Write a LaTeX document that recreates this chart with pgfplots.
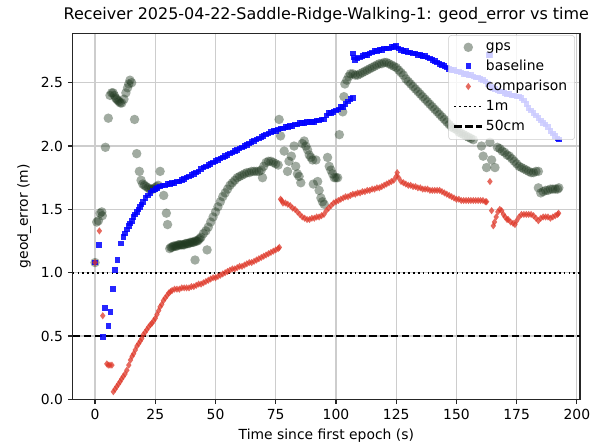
\documentclass[border=0pt]{standalone}
\usepackage{pgfplots}
\pgfplotsset{compat=1.18}
\usepackage{fontspec}
\setmainfont{DejaVu Sans}
\definecolor{gpsc}{RGB}{30,55,30}
\definecolor{basec}{RGB}{0,0,255}
\definecolor{compc}{RGB}{222,55,40}
\definecolor{gridc}{RGB}{205,205,205}
\begin{document}
\begin{tikzpicture}
\path[use as bounding box] (-52.3pt,-30.7pt) rectangle (391.2pt,287.5pt);
\begin{axis}[
  scale only axis, width=365.3pt, height=263.5pt,
  xmin=-9.3, xmax=201.3, ymin=0, ymax=2.89,
  xtick={0,25,50,75,100,125,150,175,200},
  ytick={0,0.5,1,1.5,2,2.5},
  yticklabel style={/pgf/number format/.cd, fixed, fixed zerofill, precision=1},
  /pgf/number format/assume math mode=true,
  ticklabel style={font=\fontsize{10}{12}\selectfont},
  grid=major, major grid style={gridc, line width=0.8pt},
  axis line style={black!85, line width=0.8pt},
  tick align=outside, tick pos=left, major tick length=3.5pt,
  tick style={black!85, line width=0.8pt},
  title={Receiver 2025-04-22-Saddle-Ridge-Walking-1: geod\_error vs time},
  title style={font=\fontsize{11.5}{14}\selectfont, yshift=-2pt},
  xlabel={Time since first epoch (s)},
  ylabel={geod\_error (m)},
  label style={font=\fontsize{10}{12}\selectfont},
  legend cell align=left,
  legend image code/.code={\draw[mark repeat=2,mark phase=2,#1] plot coordinates {(0cm,0cm) (0.35cm,0cm) (0.7cm,0cm)};},
  legend style={at={(rel axis cs:0.99,0.995)}, anchor=north east, draw=black!20, rounded corners=2pt,
    fill=white, fill opacity=0.8, text opacity=1, draw opacity=1, font=\fontsize{10}{12}\selectfont,
    row sep=1.5pt, inner xsep=3.5pt, inner ysep=3pt},
]
% gps
\addplot[only marks, mark=*, mark size=3.4pt, color=gpsc, mark options={draw opacity=0, fill opacity=0.42}] coordinates {
(0,1.08)(0.7,1.40)(1.4,1.41)(2.1,1.47)(2.8,1.48)(3.0,1.45)
(4.3,1.99)(5.5,2.22)(6.2,2.40)(6.9,2.42)(7.5,2.42)(8.0,2.40)(8.5,2.38)(9.0,2.37)(9.5,2.36)(10.0,2.35)(10.5,2.34)(11.1,2.34)(12.0,2.37)(12.8,2.42)(13.5,2.46)(14.0,2.49)(14.5,2.52)(15.2,2.50)
(16.4,2.21)(17.3,1.94)(18.4,1.80)(19.1,1.73)(19.8,1.70)(20.5,1.69)(21.2,1.68)(22,1.67)(22.7,1.66)(23.4,1.66)(24.1,1.66)(24.8,1.67)(25.5,1.68)(26.2,1.69)(27,1.80)(28.5,1.61)(29.6,1.47)(30.1,1.38)
(31,1.19)(31.5,1.20)(32,1.20)(32.5,1.21)(33,1.21)(33.5,1.21)(34,1.21)(34.5,1.22)(35,1.22)(35.5,1.22)(36,1.22)(36.5,1.22)(37,1.22)(37.5,1.23)(38,1.23)(38.5,1.23)(39,1.23)(39.5,1.24)(40,1.24)(40.5,1.24)(41,1.24)(41.5,1.25)(42,1.25)(42.5,1.25)(43,1.26)(43.5,1.27)(44,1.28)(45,1.31)(46,1.33)(47,1.36)(48,1.40)(49,1.44)(50,1.48)(51,1.52)(52,1.56)(53,1.60)(54,1.63)(55,1.66)(56,1.69)(57,1.71)(58,1.73)(59,1.75)(60,1.76)(61,1.77)(62,1.78)(63,1.79)(64,1.79)(65,1.80)(66,1.80)(67,1.80)(68,1.80)(69,1.81)(70,1.84)(71,1.87)(72,1.88)(73,1.88)(74,1.87)(75,1.86)(76,1.85)
(41.5,1.10)(46.5,1.18)(69.5,1.75)
(76.4,2.21)(77,2.08)(78.5,1.96)(79.9,1.80)(80.5,1.88)(81.5,1.92)(82.6,2.00)(83.3,1.84)(84,1.78)(84.7,1.76)(85.4,1.71)(86,2.02)(86.8,2.04)(87.5,2.00)(88.2,1.97)(88.9,1.93)(89.6,1.91)(90.3,1.89)(90.6,1.70)(91.7,1.89)(92.4,1.72)(93,1.65)(93.75,1.59)(94.4,1.56)(95.1,1.54)(96.5,1.91)(97.2,1.84)(97.9,1.81)(98.6,1.78)(99.3,1.75)(100,1.75)(100.7,1.75)(101.4,2.09)(102.8,2.27)(103.3,2.39)
(103.7,2.49)(104.5,2.52)(105.3,2.55)(106,2.57)(107,2.57)(108,2.56)(109,2.56)(110,2.57)(111,2.58)(112,2.59)(113,2.60)(114,2.61)(115,2.62)(116,2.63)(117,2.64)(118,2.65)(119,2.65)(120,2.66)(121,2.66)(122,2.65)(123,2.64)(124,2.63)(125,2.62)(126,2.60)(127,2.58)(128,2.56)(129,2.53)(130,2.51)(131,2.49)(132,2.47)(133,2.45)(134,2.43)(135,2.41)(136,2.39)(137,2.37)(138,2.35)(139,2.33)(140,2.31)(141,2.29)(142,2.27)(143,2.25)(144,2.23)(145,2.21)(146,2.19)(147,2.17)(148,2.15)(149,2.14)(150,2.13)(151,2.11)(152,2.10)(153,2.09)(154,2.08)(155,2.07)(156,2.06)(157,2.05)
(160.4,2.00)(161.1,1.92)(162.5,1.83)(163.9,2.03)(164.6,1.89)(166,1.83)
(167,1.99)(168,1.98)(169,1.96)(170,1.95)(171,1.93)(172,1.92)(173,1.90)(174,1.88)(175,1.86)(176,1.84)(177,1.83)(178,1.82)(179,1.81)(180,1.80)(181,1.79)(182,1.79)(183,1.80)(184,1.80)
(184,1.67)(185,1.63)(186,1.64)(187,1.65)(188,1.65)(189,1.66)(190,1.66)(191,1.66)(192,1.66)(192.5,1.67)
};
% baseline
\addplot[only marks, mark=square*, mark size=2pt, color=basec, mark options={draw opacity=0, fill opacity=0.85}] coordinates {
(0,1.08)(1.7,1.22)(3.2,0.49)(4.2,0.72)(5.6,0.58)(6.5,0.69)(7.4,0.87)(8.3,1.02)(9.4,1.10)(10.7,1.23)(11.8,1.28)(12.5,1.31)(13.2,1.34)(14,1.37)(14.6,1.39)(15.3,1.41)(16,1.44)(16.6,1.46)(17.3,1.48)(18,1.50)(18.6,1.52)(19.3,1.54)(20,1.56)(21,1.59)(22,1.61)(23,1.63)(24,1.65)(25,1.66)(26,1.67)(27,1.68)(28,1.69)(29,1.69)(30,1.70)(31,1.70)(32,1.71)(33,1.71)(34,1.72)(35,1.72)(36,1.73)(37,1.74)(38,1.75)(39,1.76)(40,1.77)(41,1.78)(42,1.79)(43,1.80)(44,1.82)(45,1.83)(46,1.84)(47,1.85)(48,1.86)(49,1.87)(50,1.88)(51,1.89)(52,1.90)(53,1.91)(54,1.92)(55,1.93)(56,1.94)(57,1.95)(58,1.96)(59,1.97)(60,1.98)(61,1.99)(62,2.00)(63,2.01)(64,2.02)(65,2.03)(66,2.04)(67,2.05)(68,2.06)(69,2.07)(70,2.08)(71,2.09)(72,2.10)(73,2.11)(74,2.12)(75,2.12)(76,2.13)(77,2.14)(78,2.14)(79,2.15)(80,2.15)(81,2.16)(82,2.16)(83,2.17)(84,2.17)(85,2.18)(86,2.18)(87,2.18)(88,2.19)(89,2.19)(90,2.19)(91,2.19)(92,2.20)(93,2.20)(94,2.21)(95,2.21)(96,2.24)(97,2.26)(98,2.26)(99,2.27)(100,2.28)(101,2.29)(102,2.31)(103,2.31)(104,2.33)(105,2.35)(106,2.37)(107,2.38)
(107,2.73)(107.5,2.70)(108,2.68)(109,2.69)(110,2.70)(111,2.71)(112,2.72)(113,2.72)(114,2.73)(115,2.74)(116,2.75)(117,2.75)(118,2.76)(119,2.76)(120,2.77)(121,2.77)(122,2.77)(123,2.78)(124,2.78)(125,2.79)(126,2.77)(127,2.76)(128,2.75)(129,2.75)(130,2.74)(131,2.74)(132,2.73)(133,2.73)(134,2.72)(135,2.72)(136,2.71)(137,2.71)(138,2.70)(139,2.69)(140,2.68)(141,2.67)(142,2.66)(143,2.65)(144,2.64)(145,2.63)(146,2.62)(147,2.61)(148,2.60)(149,2.60)(150,2.59)(151,2.59)(152,2.58)(153,2.57)(154,2.57)(155,2.56)(156,2.56)(157,2.55)(158,2.54)(159,2.54)(160,2.53)(161,2.52)(162,2.51)(163,2.49)(163.5,2.72)(164,2.72)(164.5,2.47)(165,2.46)(166,2.45)(167,2.44)(168,2.43)(169,2.43)(170,2.42)(171,2.41)(172,2.41)(173,2.40)(174,2.40)(175,2.39)(176,2.39)(177,2.38)(178,2.36)(179,2.33)(180,2.30)(181,2.28)(182,2.26)(183,2.24)(184,2.22)(185,2.20)(186,2.18)(187,2.17)(188,2.15)(189,2.12)(190,2.10)(191,2.08)(192,2.06)(192.5,2.05)
};
% comparison
\addplot[only marks, mark=diamond*, mark size=2.6pt, color=compc, mark options={draw opacity=0, fill opacity=0.75}] coordinates {
(0,1.08)(1.8,1.33)(3.2,0.66)(4.9,0.28)(5.5,0.27)(6.2,0.27)(7,0.27)(7.6,0.06)(8.3,0.08)(9,0.10)(9.7,0.12)(10.4,0.14)(11,0.16)(11.7,0.18)(12.4,0.20)(13.2,0.23)(14,0.27)(14.7,0.31)(15.4,0.34)(16,0.36)(16.7,0.39)(17.4,0.42)(18.1,0.44)(18.75,0.46)(19.4,0.48)(20,0.51)(20.8,0.53)(21.5,0.55)(22.2,0.57)(23,0.59)(23.6,0.60)(24.3,0.62)(25,0.64)(25.7,0.67)(26.4,0.70)(27,0.73)(27.7,0.75)(28.4,0.78)(29.1,0.80)(29.9,0.82)(30.6,0.84)(31.3,0.85)(32,0.86)(33,0.87)(34,0.87)(35,0.87)(36,0.88)(37,0.88)(38,0.88)(39,0.88)(40,0.89)(41,0.89)(42,0.90)(43,0.91)(44,0.91)(45,0.92)(46,0.93)(47,0.94)(48,0.95)(49,0.96)(50,0.96)(51,0.97)(52,0.98)(53,0.99)(54,1.00)(55,1.01)(56,1.02)(57,1.03)(58,1.03)(59,1.04)(60,1.05)(61,1.05)(62,1.06)(63,1.07)(64,1.08)(65,1.08)(66,1.09)(67,1.10)(68,1.11)(69,1.12)(70,1.13)(71,1.14)(72,1.15)(73,1.16)(74,1.17)(75,1.18)(76,1.19)(76.5,1.20)
(77,1.58)(77.5,1.57)(78,1.55)(79,1.55)(80,1.54)(81,1.53)(82,1.51)(83,1.50)(84,1.48)(85,1.46)(86,1.44)(87,1.43)(88,1.42)(89,1.42)(90,1.43)(91,1.43)(92,1.44)(93,1.44)(94,1.45)(95,1.46)(96,1.49)(97,1.51)(98,1.53)(99,1.55)(100,1.56)(101,1.57)(102,1.58)(103,1.59)(104,1.60)(105,1.60)(106,1.61)(107,1.62)(108,1.62)(109,1.63)(110,1.63)(111,1.64)(112,1.64)(113,1.65)(114,1.65)(115,1.66)(116,1.66)(117,1.67)(118,1.67)(119,1.68)(120,1.69)(121,1.70)(122,1.71)(123,1.72)(124,1.73)(125,1.76)(125.4,1.79)(126,1.75)(127,1.72)(128,1.71)(129,1.70)(130,1.69)(131,1.69)(132,1.68)(133,1.68)(134,1.67)(135,1.67)(136,1.66)(137,1.66)(138,1.66)(139,1.65)(140,1.65)(141,1.65)(142,1.65)(143,1.65)(144,1.64)(145,1.63)(146,1.62)(147,1.61)(148,1.60)(149,1.59)(150,1.58)(151,1.58)(152,1.57)(153,1.57)(154,1.57)(155,1.57)(156,1.57)(157,1.57)(158,1.57)(159,1.57)(160,1.57)(161,1.57)(162,1.56)(162.5,1.56)
(163.9,1.72)
(164.6,1.49)(165.3,1.37)(165.8,1.40)(166.5,1.44)(167.2,1.48)(168,1.50)(168.75,1.49)(169.5,1.46)(170.2,1.44)(171,1.42)(171.5,1.42)(172.5,1.40)(173.5,1.39)(174.3,1.38)(175,1.41)(176,1.44)(177,1.46)(178,1.46)(179,1.46)(180,1.46)(181,1.46)(182,1.45)(183,1.43)(184,1.41)(185,1.43)(186,1.44)(187,1.44)(188,1.44)(189,1.43)(190,1.44)(191,1.45)(192,1.46)(192.4,1.47)
};
\addplot[black, line width=1.3pt, dash pattern=on 1.3pt off 2.2pt] coordinates {(-9.3,1) (201.3,1)};
\addplot[black, line width=1.5pt, dash pattern=on 5.5pt off 2.4pt] coordinates {(-9.3,0.5) (201.3,0.5)};
\legend{gps, baseline, comparison, 1m, 50cm}
\end{axis}
\end{tikzpicture}
\end{document}
